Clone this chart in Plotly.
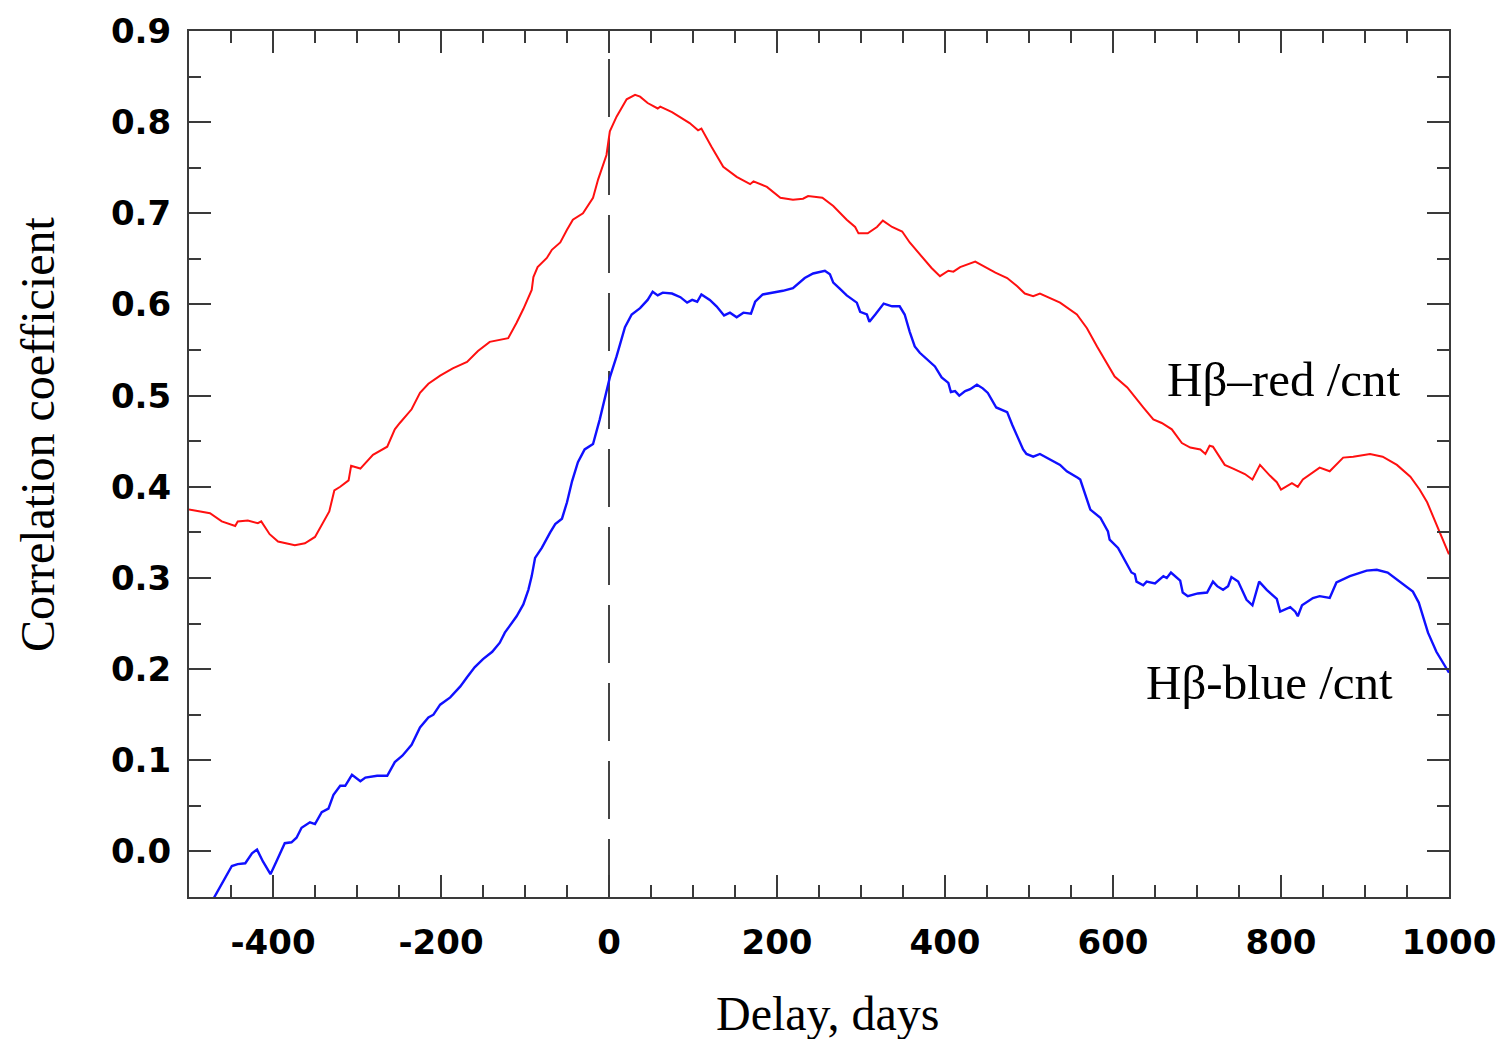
import plotly.graph_objects as go

# Delay (days) and correlation coefficients
red_delay = [-500, -475, -461, -445, -442, -430, -418, -414, -404, -394, -374, -362, -350, -340, -333,
             -327, -320, -310, -307, -296, -281, -264, -255, -249, -235, -225, -215, -201, -186, -169,
             -156, -142, -120, -110, -102, -92, -90, -85, -74, -68, -58, -50, -43, -31, -19, -13, -3,
             1, 9, 21, 31, 37, 46, 58, 61, 75, 85, 96, 106, 110, 122, 136, 152, 168, 172, 188, 204,
             219, 231, 237, 254, 267, 283, 293, 297, 308, 319, 326, 337, 349, 358, 370, 384, 394, 404,
             410, 418, 436, 450, 460, 474, 486, 495, 505, 513, 537, 557, 569, 581, 593, 602, 617, 628,
             636, 648, 658, 670, 682, 692, 704, 710, 715, 719, 733, 743, 757, 766, 775, 787, 795, 800,
             813, 820, 826, 846, 858, 874, 886, 906, 921, 938, 954, 965, 974, 989, 1000]
red_corr = [0.375, 0.371, 0.362, 0.357, 0.362, 0.363, 0.360, 0.362, 0.348, 0.340, 0.336, 0.338, 0.345,
            0.362, 0.373, 0.396, 0.400, 0.407, 0.423, 0.420, 0.435, 0.444, 0.463, 0.470, 0.485, 0.503,
            0.513, 0.522, 0.530, 0.537, 0.549, 0.559, 0.563, 0.580, 0.595, 0.616, 0.630, 0.641, 0.651,
            0.660, 0.668, 0.682, 0.693, 0.700, 0.717, 0.737, 0.764, 0.790, 0.806, 0.825, 0.830, 0.828,
            0.821, 0.815, 0.817, 0.811, 0.805, 0.799, 0.791, 0.793, 0.773, 0.751, 0.740, 0.732, 0.735,
            0.729, 0.717, 0.715, 0.716, 0.719, 0.717, 0.708, 0.693, 0.685, 0.678, 0.678, 0.685, 0.692,
            0.685, 0.680, 0.668, 0.655, 0.640, 0.631, 0.637, 0.636, 0.641, 0.647, 0.640, 0.635, 0.629,
            0.620, 0.612, 0.609, 0.612, 0.602, 0.589, 0.574, 0.554, 0.536, 0.521, 0.509, 0.496, 0.487,
            0.474, 0.470, 0.463, 0.448, 0.443, 0.441, 0.436, 0.445, 0.444, 0.424, 0.420, 0.414, 0.408,
            0.424, 0.412, 0.405, 0.397, 0.404, 0.400, 0.408, 0.421, 0.417, 0.432, 0.433, 0.436, 0.433,
            0.424, 0.411, 0.397, 0.383, 0.350, 0.326]

blue_delay = [-485, -470, -461, -449, -442, -433, -425, -419, -412, -403, -395, -386, -378, -372, -366,
              -356, -350, -342, -334, -328, -320, -314, -306, -296, -290, -276, -264, -255, -246, -235,
              -225, -215, -209, -201, -189, -177, -169, -160, -150, -139, -130, -124, -110, -102, -96,
              -92, -88, -80, -70, -64, -56, -50, -44, -37, -29, -19, -11, -5, 1, 9, 19, 27, 37, 46, 52,
              58, 64, 75, 85, 93, 99, 105, 110, 120, 128, 137, 144, 152, 160, 169, 174, 183, 195, 207,
              219, 233, 243, 257, 263, 267, 275, 283, 295, 299, 307, 310, 317, 327, 337, 346, 352, 358,
              364, 370, 388, 396, 404, 407, 412, 417, 424, 430, 438, 445, 451, 461, 474, 480, 493, 497,
              505, 513, 537, 545, 558, 561, 573, 585, 594, 596, 606, 614, 622, 626, 628, 636, 640, 650,
              660, 664, 669, 680, 683, 689, 701, 712, 719, 724, 731, 737, 741, 749, 759, 766, 774, 783,
              795, 799, 811, 817, 820, 825, 838, 846, 858, 866, 882, 902, 914, 927, 942, 957, 964, 975,
              985, 1000]
blue_corr = [-0.075, -0.050, -0.036, -0.016, -0.014, -0.013, -0.002, 0.002, -0.011, -0.025, -0.009, 0.009,
             0.010, 0.015, 0.026, 0.032, 0.030, 0.043, 0.047, 0.062, 0.072, 0.072, 0.084, 0.077, 0.081,
             0.083, 0.083, 0.098, 0.105, 0.117, 0.136, 0.147, 0.150, 0.161, 0.169, 0.181, 0.191, 0.202,
             0.211, 0.219, 0.229, 0.240, 0.258, 0.271, 0.287, 0.302, 0.322, 0.333, 0.350, 0.359, 0.365,
             0.383, 0.406, 0.427, 0.441, 0.447, 0.474, 0.496, 0.520, 0.543, 0.575, 0.589, 0.596, 0.605,
             0.614, 0.610, 0.613, 0.612, 0.608, 0.602, 0.605, 0.603, 0.611, 0.605, 0.598, 0.588, 0.591,
             0.586, 0.591, 0.590, 0.603, 0.611, 0.613, 0.615, 0.618, 0.629, 0.634, 0.637, 0.633, 0.624,
             0.617, 0.610, 0.602, 0.592, 0.589, 0.581, 0.589, 0.601, 0.598, 0.598, 0.589, 0.570, 0.554,
             0.547, 0.532, 0.520, 0.514, 0.504, 0.505, 0.500, 0.505, 0.507, 0.512, 0.508, 0.503, 0.487,
             0.482, 0.468, 0.441, 0.436, 0.433, 0.436, 0.424, 0.417, 0.410, 0.408, 0.375, 0.366, 0.351,
             0.342, 0.333, 0.320, 0.306, 0.304, 0.296, 0.292, 0.296, 0.294, 0.302, 0.300, 0.306, 0.297,
             0.284, 0.280, 0.283, 0.284, 0.296, 0.291, 0.287, 0.291, 0.301, 0.296, 0.276, 0.270, 0.296,
             0.287, 0.277, 0.263, 0.268, 0.263, 0.258, 0.270, 0.278, 0.280, 0.278, 0.295, 0.302, 0.308,
             0.309, 0.306, 0.295, 0.285, 0.273, 0.240, 0.219, 0.196]

x_ticks = [-400, -200, 0, 200, 400, 600, 800, 1000]
y_ticks = [0.0, 0.1, 0.2, 0.3, 0.4, 0.5, 0.6, 0.7, 0.8, 0.9]
y_tick_labels = ["0.0", "0.1", "0.2", "0.3", "0.4", "0.5", "0.6", "0.7", "0.8", "0.9"]
red_label = "Hβ–red /cnt"
blue_label = "Hβ-blue /cnt"
x_title = "Delay, days"
y_title = "Correlation coefficient"

AX = "#3a3a3a"
SERIF = "Liberation Serif"

fig = go.Figure()
fig.add_trace(go.Scatter(x=red_delay, y=red_corr, mode="lines",
                         line=dict(color="#ff1010", width=2), showlegend=False))
fig.add_trace(go.Scatter(x=blue_delay, y=blue_corr, mode="lines",
                         line=dict(color="#1010ff", width=2.4), showlegend=False))

fig.add_shape(type="line", xref="x", yref="paper", x0=0, x1=0, y0=0, y1=1,
              line=dict(color="#444444", width=2, dash="58px,20px"), layer="below")

annotations = [
    dict(x=1.0, xshift=-47, y=0.5175, xref="paper", yref="y", xanchor="right", yanchor="middle",
         text=red_label, showarrow=False, font=dict(family=SERIF, size=49, color="black")),
    dict(x=1.0, xshift=-54, y=0.185, xref="paper", yref="y", xanchor="right", yanchor="middle",
         text=blue_label, showarrow=False, font=dict(family=SERIF, size=49, color="black")),
    dict(x=0.507, y=-0.134, xref="paper", yref="paper", xanchor="center", yanchor="middle",
         text=x_title, showarrow=False, font=dict(family=SERIF, size=48, color="black")),
    dict(x=-0.1206, y=0.5346, xref="paper", yref="paper", xanchor="center", yanchor="middle",
         textangle=-90, text=y_title, showarrow=False, font=dict(family=SERIF, size=48, color="black")),
]

fig.update_layout(
    width=1499, height=1039,
    margin=dict(l=189, r=50, t=31, b=142, autoexpand=False),
    paper_bgcolor="white", plot_bgcolor="white",
    annotations=annotations,
)

fig.update_xaxes(
    range=[-500, 1000], tickmode="array", tickvals=x_ticks,
    ticktext=[str(v) for v in x_ticks],
    ticks="inside", ticklen=22, tickwidth=2, tickcolor=AX,
    minor=dict(dtick=50, tick0=0, ticks="inside", ticklen=12, tickwidth=1.5, tickcolor=AX),
    showline=True, linecolor=AX, linewidth=2, mirror="ticks",
    showgrid=False, zeroline=False, automargin=False,
    tickfont=dict(family="DejaVu Sans", size=34, color="black", weight="bold"),
    ticklabelstandoff=14,
)
fig.update_yaxes(
    range=[-0.05, 0.9], tickmode="array", tickvals=y_ticks, ticktext=y_tick_labels,
    ticks="inside", ticklen=22, tickwidth=2, tickcolor=AX,
    minor=dict(dtick=0.05, tick0=0, ticks="inside", ticklen=12, tickwidth=1.5, tickcolor=AX),
    showline=True, linecolor=AX, linewidth=2, mirror="ticks",
    showgrid=False, zeroline=False, automargin=False,
    tickfont=dict(family="DejaVu Sans", size=34, color="black", weight="bold"),
    ticklabelstandoff=9,
)

fig.write_html("out.html")
